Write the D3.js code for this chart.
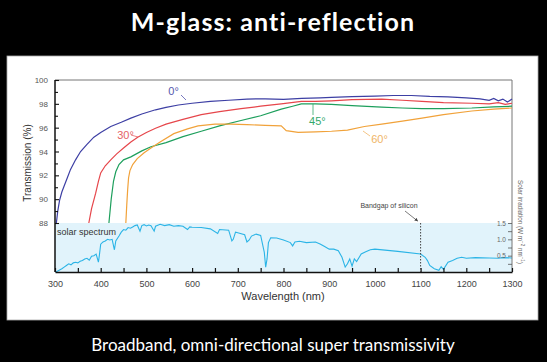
<!DOCTYPE html>
<html lang="en">
<head>
<meta charset="UTF-8">
<title>M-glass: anti-reflection</title>
<style>
  body { margin: 0; background: #000; }
  svg { display: block; }
</style>
</head>
<body>
<script src="https://cdn.jsdelivr.net/npm/d3@7"></script>
<script>
    const w = 547;
    const h = 362;

    // transmission curves, [wavelength nm, transmission %]
    const angle0 = [[303,88],[306,89],[310,89.9],[315,90.6],[320,91.1],[327,91.8],[334,92.5],[345,93.3],[356,94],[370,94.6],[385,95.2],[400,95.6],[422,96.1],[445,96.45],[466,96.8],[490,97.15],[520,97.5],[543,97.7],[570,97.9],[600,98.05],[640,98.2],[680,98.3],[720,98.4],[760,98.42],[800,98.38],[840,98.45],[880,98.5],[905,98.55],[950,98.6],[1000,98.65],[1040,98.7],[1080,98.7],[1120,98.62],[1160,98.58],[1200,98.5],[1230,98.42],[1250,98.3],[1260,98.45],[1270,98.25],[1280,98.4],[1290,98.15],[1300,98.4]];
    const angle30 = [[374,88],[380,89.2],[389,90.5],[395,91.5],[400,92.2],[410,92.8],[422,93.3],[435,93.8],[450,94.3],[466,94.8],[481,95.2],[500,95.6],[520,95.95],[543,96.3],[580,96.7],[620,97.1],[660,97.35],[707,97.6],[750,97.8],[795,98.0],[839,98.2],[870,98.2],[905,98.25],[950,98.35],[1015,98.4],[1060,98.3],[1103,98.2],[1150,98.1],[1212,98.05],[1250,98.0],[1270,98.1],[1285,97.95],[1300,98.05]];
    const angle45 = [[418,88],[423,90],[428,91.5],[433,92.3],[440,92.9],[450,93.3],[466,93.55],[490,94.05],[510,94.4],[543,94.75],[580,95.25],[620,95.7],[660,96.15],[707,96.6],[750,97.0],[795,97.55],[820,97.8],[839,98.0],[870,98.0],[905,97.95],[950,97.85],[1015,97.72],[1060,97.65],[1103,97.6],[1150,97.6],[1212,97.65],[1260,97.75],[1300,97.8]];
    const angle60 = [[455,88],[457,89.5],[459,90.8],[461,91.8],[464,92.4],[470,92.9],[480,93.4],[495,93.9],[510,94.3],[530,94.8],[560,95.5],[590,95.9],[613,96.15],[650,96.3],[685,96.3],[720,96.25],[760,96.2],[795,96.15],[806,95.75],[832,95.6],[870,95.65],[905,95.7],[940,95.8],[977,96.1],[1015,96.3],[1060,96.55],[1103,96.8],[1150,97.1],[1212,97.4],[1260,97.55],[1300,97.65]];

    // solar spectrum, [wavelength nm, W m-2 nm-1]
    const solar = [[300,0],[305,0.02],[310,0.06],[315,0.1],[320,0.15],[325,0.2],[330,0.25],[335,0.22],[340,0.28],[345,0.3],[350,0.28],[355,0.33],[360,0.35],[365,0.4],[370,0.42],[375,0.36],[380,0.48],[385,0.5],[390,0.55],[393,0.4],[395,0.3],[397,0.5],[400,0.85],[405,0.92],[410,0.95],[415,1.0],[420,0.98],[425,1.0],[430,0.68],[433,0.95],[440,1.1],[445,1.22],[450,1.3],[455,1.28],[460,1.36],[465,1.34],[470,1.38],[475,1.42],[480,1.44],[486,1.25],[490,1.42],[495,1.45],[500,1.41],[505,1.44],[510,1.42],[517,1.25],[520,1.4],[530,1.46],[540,1.42],[550,1.45],[560,1.4],[570,1.42],[580,1.4],[590,1.3],[595,1.38],[600,1.37],[620,1.36],[640,1.32],[656,1.18],[660,1.3],[680,1.28],[687,0.95],[690,1.0],[695,1.22],[700,1.2],[715,1.14],[720,0.92],[725,0.98],[730,1.1],[740,1.16],[750,1.12],[758,0.6],[761,0.15],[764,0.4],[767,0.9],[772,1.05],[785,1.04],[800,0.98],[815,0.9],[820,0.8],[825,0.92],[835,0.94],[850,0.9],[870,0.92],[880,0.86],[890,0.78],[900,0.7],[910,0.7],[920,0.65],[928,0.45],[935,0.15],[940,0.25],[945,0.4],[950,0.18],[955,0.4],[960,0.32],[970,0.55],[980,0.62],[990,0.68],[1000,0.7],[1050,0.63],[1100,0.55],[1110,0.45],[1115,0.35],[1120,0.2],[1130,0.1],[1140,0.05],[1145,0.16],[1150,0.08],[1160,0.3],[1170,0.35],[1180,0.42],[1190,0.45],[1200,0.42],[1220,0.44],[1250,0.43],[1270,0.42],[1280,0.44],[1300,0.43]];

    const xTicks = [300,400,500,600,700,800,900,1000,1100,1200,1300];
    const yTicks = [88,90,92,94,96,98,100];
    const eTicks = [0.5,1.0,1.5];
    const bandgap = 1100;

    const svg = d3.select('body')
        .append('svg')
        .attr('width', w)
        .attr('height', h)
        .style('font-family', '"Liberation Sans", Arial, sans-serif');

    svg.append('rect').attr('width', w).attr('height', h).attr('fill', '#000');

    svg.append('text')
        .attr('x', 273).attr('y', 31)
        .attr('text-anchor', 'middle')
        .attr('fill', '#fff')
        .attr('font-family', 'Lato, sans-serif')
        .attr('font-weight', 'bold')
        .attr('font-size', 25)
        .attr('letter-spacing', 1.1)
        .text('M-glass: anti-reflection');

    svg.append('text')
        .attr('x', 273).attr('y', 351)
        .attr('text-anchor', 'middle')
        .attr('fill', '#fff')
        .attr('font-family', 'Lato, sans-serif')
        .attr('font-size', 17)
        .text('Broadband, omni-directional super transmissivity');

    // white panel
    svg.append('rect')
        .attr('x', 7).attr('y', 56).attr('width', 531).attr('height', 264)
        .attr('fill', '#fff').attr('stroke', '#aaa').attr('stroke-width', 0.8);

    const xScale = d3.scaleLinear().domain([300, 1300]).range([55, 512]);
    const yScale = d3.scaleLinear().domain([88, 100]).range([223, 80]);
    const eScale = d3.scaleLinear().domain([0, 1.5]).range([272, 223]);

    // solar band
    svg.append('rect')
        .attr('x', xScale(300)).attr('y', eScale(1.5))
        .attr('width', xScale(1300) - xScale(300))
        .attr('height', eScale(0) - eScale(1.5))
        .attr('fill', '#e1f3fb');

    const solarLine = d3.line().x(d => xScale(d[0])).y(d => eScale(d[1]));
    svg.append('path')
        .datum(solar)
        .attr('d', solarLine)
        .attr('fill', 'none')
        .attr('stroke', '#2bb4e6')
        .attr('stroke-width', 1.1);

    // frame
    svg.append('path')
        .attr('d', `M${xScale(300)},${yScale(100)}H${xScale(1300)}V${eScale(0)}`)
        .attr('fill', 'none').attr('stroke', '#777').attr('stroke-width', 1);

    const tLine = d3.line().x(d => xScale(d[0])).y(d => yScale(d[1]));
    const series = [
        { data: angle0, color: '#3d3fa4' },
        { data: angle30, color: '#e6464b' },
        { data: angle45, color: '#1d9f5c' },
        { data: angle60, color: '#f1a23a' }
    ];
    series.forEach(s => {
        svg.append('path')
            .datum(s.data)
            .attr('d', tLine)
            .attr('fill', 'none')
            .attr('stroke', s.color)
            .attr('stroke-width', 1.2);
    });

    // angle labels with leader lines
    const labels = [
        { t: '0°', lx: 548, ly: 98.7, x1: 181, y1: 95, x2: 186, y2: 100, color: '#5557ae' },
        { t: '30°', lx: 436, ly: 95.05, x1: 131, y1: 135, x2: 138, y2: 137, color: '#e56266' },
        { t: '45°', lx: 856, ly: 96.2, x1: 313, y1: 104, x2: 313, y2: 115, color: '#33a86b' },
        { t: '60°', lx: 992, ly: 94.75, x1: 363, y1: 131, x2: 370, y2: 136, color: '#f0b566' }
    ];
    labels.forEach(l => {
        svg.append('line')
            .attr('x1', l.x1).attr('y1', l.y1).attr('x2', l.x2).attr('y2', l.y2)
            .attr('stroke', l.color).attr('stroke-width', 0.8);
        svg.append('text')
            .attr('x', xScale(l.lx)).attr('y', yScale(l.ly))
            .attr('fill', l.color)
            .attr('font-size', 11)
            .text(l.t);
    });

    // axes
    const xAxis = d3.axisBottom(xScale)
        .tickValues(d3.range(300, 1301, 50))
        .tickSizeInner(-4).tickSizeOuter(0)
        .tickFormat(d => xTicks.includes(d) ? d : '');
    const gx = svg.append('g').attr('transform', `translate(0,${eScale(0)})`).call(xAxis);
    gx.select('.domain').attr('stroke', '#111').attr('stroke-width', 1.5);
    gx.selectAll('.tick line').attr('stroke', '#111').attr('stroke-width', 1.2);
    gx.selectAll('.tick text').attr('y', 9).attr('font-size', 9).attr('fill', '#444');

    const yAxis = d3.axisLeft(yScale)
        .tickValues(d3.range(88, 100.5, 1))
        .tickSizeInner(-4).tickSizeOuter(0)
        .tickFormat(d => yTicks.includes(d) ? d : '');
    const gy = svg.append('g').attr('transform', `translate(${xScale(300)},0)`).call(yAxis);
    gy.select('.domain').remove();
    gy.append('line').attr('y1', yScale(100)).attr('y2', eScale(0))
        .attr('stroke', '#111').attr('stroke-width', 1.5);
    gy.selectAll('.tick line').attr('stroke', '#111').attr('stroke-width', 1.1)
        .attr('x2', d => yTicks.includes(d) ? 4 : 3);
    gy.selectAll('.tick text').attr('x', -7).attr('font-size', 8).attr('fill', '#555');

    const eAxis = d3.axisRight(eScale)
        .tickValues(d3.range(0.25, 1.6, 0.25))
        .tickSizeInner(-4).tickSizeOuter(0)
        .tickFormat(d => eTicks.some(t => Math.abs(t - d) < 1e-6) ? d3.format('.1f')(d) : '');
    const ge = svg.append('g').attr('transform', `translate(${xScale(1300)},0)`).call(eAxis);
    ge.select('.domain').remove();
    ge.selectAll('.tick line').attr('stroke', '#555').attr('stroke-width', 0.8);
    ge.selectAll('.tick text').attr('x', -6).attr('text-anchor', 'end')
        .attr('font-size', 6.5).attr('fill', '#666');

    // axis titles
    svg.append('text')
        .attr('transform', `translate(31,${(yScale(100) + eScale(0)) / 2 - 13}) rotate(-90)`)
        .attr('text-anchor', 'middle')
        .attr('font-size', 10).attr('fill', '#333')
        .text('Transmission (%)');
    svg.append('text')
        .attr('x', 283).attr('y', 300)
        .attr('text-anchor', 'middle')
        .attr('font-size', 11).attr('fill', '#333')
        .text('Wavelength (nm)');
    const eTitle = svg.append('text')
        .attr('transform', `translate(518,222) rotate(90)`)
        .attr('text-anchor', 'middle')
        .attr('font-size', 6.3).attr('fill', '#666');
    eTitle.append('tspan').text('Solar irradiation (W m');
    eTitle.append('tspan').attr('dy', -2.5).attr('font-size', 4.5).text('−2');
    eTitle.append('tspan').attr('dy', 2.5).text(' nm');
    eTitle.append('tspan').attr('dy', -2.5).attr('font-size', 4.5).text('−1');
    eTitle.append('tspan').attr('dy', 2.5).text(')');

    svg.append('text')
        .attr('x', 57).attr('y', 235)
        .attr('font-size', 9).attr('fill', '#333')
        .text('solar spectrum');

    // bandgap marker
    svg.append('line')
        .attr('x1', xScale(bandgap)).attr('x2', xScale(bandgap))
        .attr('y1', eScale(1.5)).attr('y2', eScale(0))
        .attr('stroke', '#444').attr('stroke-width', 1).attr('stroke-dasharray', '1.5,1.5');
    svg.append('text')
        .attr('x', 389).attr('y', 208)
        .attr('text-anchor', 'middle')
        .attr('font-size', 7).attr('fill', '#444')
        .text('Bandgap of silicon');
    svg.append('defs').append('marker')
        .attr('id', 'arr').attr('viewBox', '0 0 6 6').attr('refX', 5).attr('refY', 3)
        .attr('markerWidth', 5).attr('markerHeight', 5).attr('orient', 'auto')
        .append('path').attr('d', 'M0,0L6,3L0,6Z').attr('fill', '#444');
    svg.append('line')
        .attr('x1', 405).attr('y1', 211).attr('x2', xScale(bandgap) - 3).attr('y2', 221)
        .attr('stroke', '#444').attr('stroke-width', 0.7).attr('marker-end', 'url(#arr)');
</script>
</body>
</html>
